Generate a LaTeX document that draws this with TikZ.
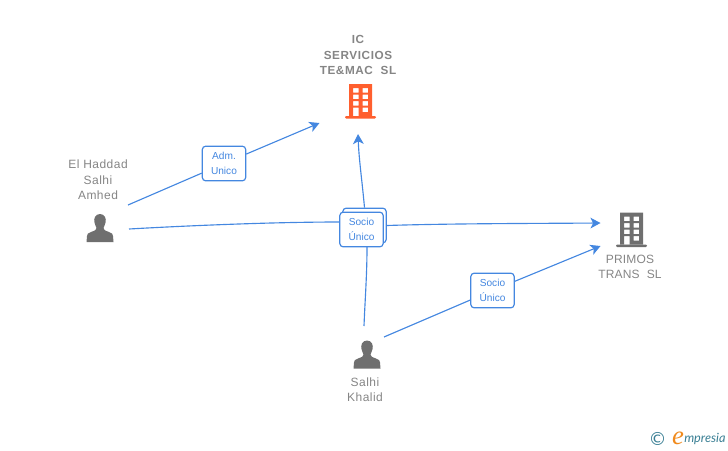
\documentclass[tikz,border=0pt]{standalone}
\usepackage{fontspec}
\setmainfont{Liberation Sans}
\newfontfamily\lspaced[LetterSpace=4]{Liberation Sans}
\newfontfamily\lspacedb[LetterSpace=5]{Liberation Sans}
\newfontfamily\ltight[LetterSpace=1.5]{Liberation Sans}
\newfontfamily\logofont{Liberation Serif}
\newfontfamily\logosans{Lato}
\newfontfamily\symfont{DejaVu Sans}
\usetikzlibrary{arrows.meta}
\definecolor{linkblue}{HTML}{4487E0}
\definecolor{labelgray}{HTML}{858585}
\definecolor{icongray}{HTML}{6F6F6F}
\definecolor{orangered}{HTML}{FF5F2E}
\definecolor{logoteal}{HTML}{3A7F94}
\definecolor{logoorange}{HTML}{F08A1D}
\tikzset{
  link/.style={draw=linkblue,line width=0.85pt},
  arrowlink/.style={link,-{Stealth[length=7.5pt,width=8pt,inset=2pt]}},
  relbox/.style={draw=linkblue,line width=0.9pt,fill=white,rounded corners=2.5pt,minimum width=32.5pt,minimum height=26pt,inner sep=0pt,align=center,text=linkblue,font=\fontsize{7.6pt}{11.2pt}\selectfont},
  namelabel/.style={align=center,text=labelgray,inner sep=0pt,font=\lspaced\fontsize{9pt}{11.6pt}\selectfont},
  primolabel/.style={align=center,text=labelgray,inner sep=0pt,font=\ltight\fontsize{9pt}{11.4pt}\selectfont},
  boldlabel/.style={align=center,text=labelgray,inner sep=0pt,font=\lspacedb\bfseries\fontsize{8.8pt}{11.4pt}\selectfont},
  person/.pic={
    \fill[icongray] (0,-14) .. controls (-5,-14) and (-6.5,-9) .. (-5.5,-5.5)
      .. controls (-5,-3) and (-4,-1.5) .. (-3.5,0)
      .. controls (-3.5,2) and (-5,2.5) .. (-9,4)
      .. controls (-12,5) and (-13,6) .. (-13,8) -- (-13.5,14) -- (13.5,14) -- (13,8)
      .. controls (13,6) and (12,5) .. (9,4)
      .. controls (5,2.5) and (3.5,2) .. (3.5,0)
      .. controls (4,-1.5) and (5,-3) .. (5.5,-5.5)
      .. controls (6.5,-9) and (5,-14) .. (0,-14) -- cycle;
  },
  building/.pic={
    \fill[pic actions,even odd rule] (-11.5,-17) rectangle (11.5,15)
      (-7.5,-13) rectangle (-2,-8.5) (2,-13) rectangle (7.5,-8.5)
      (-7.5,-6.5) rectangle (-2,-2) (2,-6.5) rectangle (7.5,-2)
      (-7.5,0) rectangle (-2,4.5) (2,0) rectangle (7.5,4.5)
      (-7.5,6.5) rectangle (-2,15) (2,6.5) rectangle (7.5,11);
    \fill[pic actions,rounded corners=0.8pt] (-15.5,15) rectangle (15.5,17.5);
  }
}
\begin{document}
\begin{tikzpicture}[x=0.75pt,y=-0.75pt]
\useasboundingbox (0,0) rectangle (728,450);
% icons
\pic[fill=orangered] at (360.5,101) {building};
\pic[fill=icongray] at (631.5,229.5) {building};
\pic at (100,228) {person};
\pic at (367,354.5) {person};
% labels
\node[boldlabel] (ic) at (358,55) {IC\\SERVICIOS\\TE\&MAC\ \ SL};
\node[namelabel] (haddad) at (98,180) {El Haddad\\Salhi\\Amhed};
\node[primolabel] (primos) at (630,267) {PRIMOS\\TRANS\ \ SL};
\node[namelabel] (khalid) at (365,389.5) {Salhi\\Khalid};
% connector ends
\coordinate (hadOutA) at (128,205);
\coordinate (hadOutB) at (129,229);
\coordinate (khaOutA) at (364,326);
\coordinate (khaOutB) at (384,337);
\coordinate (icInA) at (319.5,123);
\coordinate (icInB) at (358,134);
\coordinate (priInA) at (600.5,223);
\coordinate (priInB) at (600.5,246);
% boxes
\node[relbox] (adm) at (224,163.5) {Adm.\\Unico};
\node[relbox] (socioB) at (364.5,225.5) {};
\node[relbox] (primosBox) at (492.5,290.5) {Socio\\Único};
% connectors
\draw[link] (hadOutA) -- (adm);
\draw[arrowlink] (adm) -- (icInA);
\draw[link] (hadOutB) .. controls (200,225) and (280,222) .. (340,222);
\draw[arrowlink] (socioB.east) .. controls (450,223.5) and (530,223.5) .. (priInA);
\draw[arrowlink] (socioB.north) .. controls (362,180) and (359,160) .. (icInB);
\draw[link] (khaOutA) .. controls (365,300) and (367,275) .. (367,247);
\draw[link] (khaOutB) -- (primosBox);
\draw[arrowlink] (primosBox) -- (priInB);
\node[relbox] (socioA) at (361.5,229.5) {Socio\\Único};
% logo
\node[inner sep=0pt,text=logoteal,font=\symfont\fontsize{13.5pt}{14pt}\selectfont] (copy) at (657.5,438.5) {©};
\node[inner sep=0pt,text=logoorange,font=\logofont\itshape\fontsize{20pt}{20pt}\selectfont] (logoe) at (678,438) {e};
\node[inner sep=0pt,anchor=west,text=logoteal,font=\logosans\itshape\fontsize{9.5pt}{10pt}\selectfont] (logotxt) at (684,438.5) {mpresia};
\end{tikzpicture}
\end{document}
